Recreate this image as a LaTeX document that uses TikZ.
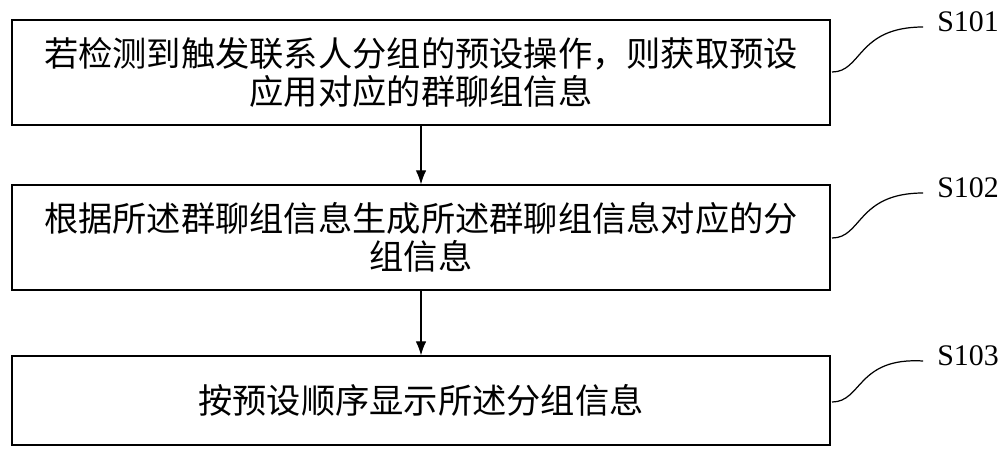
\documentclass[tikz,border=0pt]{standalone}
\usepackage{fontspec}
\usetikzlibrary{arrows.meta,calc}
\setmainfont{Liberation Serif}
\newfontfamily\cjk{Noto Sans CJK SC}
\begin{document}
\begin{tikzpicture}[x=0.02cm,y=-0.02cm,
  stepbox/.style={draw,line width=0.7pt,minimum width=16.36cm,align=center,
    text width=16.2cm,font=\cjk\fontsize{19.5}{22}\selectfont,inner sep=0pt},
  lbl/.style={font=\fontsize{17}{20}\selectfont},
  arr/.style={-{Latex[length=8pt,width=6pt]},line width=0.7pt}]
\useasboundingbox (0,0) rectangle (1000,464);
\node[stepbox,minimum height=2.1cm] (b1) at (421,72.5) {若检测到触发联系人分组的预设操作，则获取预设\\应用对应的群聊组信息};
\node[stepbox,minimum height=2.1cm] (b2) at (421,237.5) {根据所述群聊组信息生成所述群聊组信息对应的分\\组信息};
\node[stepbox,minimum height=1.78cm] (b3) at (421,400.5) {按预设顺序显示所述分组信息};
\draw[arr] (b1.south) -- (b2.north);
\draw[arr] (b2.south) -- (b3.north);
\node[lbl] (s1) at (968,22) {S101};
\node[lbl] (s2) at (968,188) {S102};
\node[lbl] (s3) at (968,356) {S103};
\coordinate (c1) at (832,72); \coordinate (c2) at (832,238); \coordinate (c3) at (832,402);
\foreach \c/\s in {c1/s1,c2/s2,c3/s3}{
  \draw[line width=0.7pt] (\c) .. controls ($(\c)+(30,0)$) and ($(\c)+(25,-45)$) .. ($(\s.west)+(-8,5)$);
}
\end{tikzpicture}
\end{document}
